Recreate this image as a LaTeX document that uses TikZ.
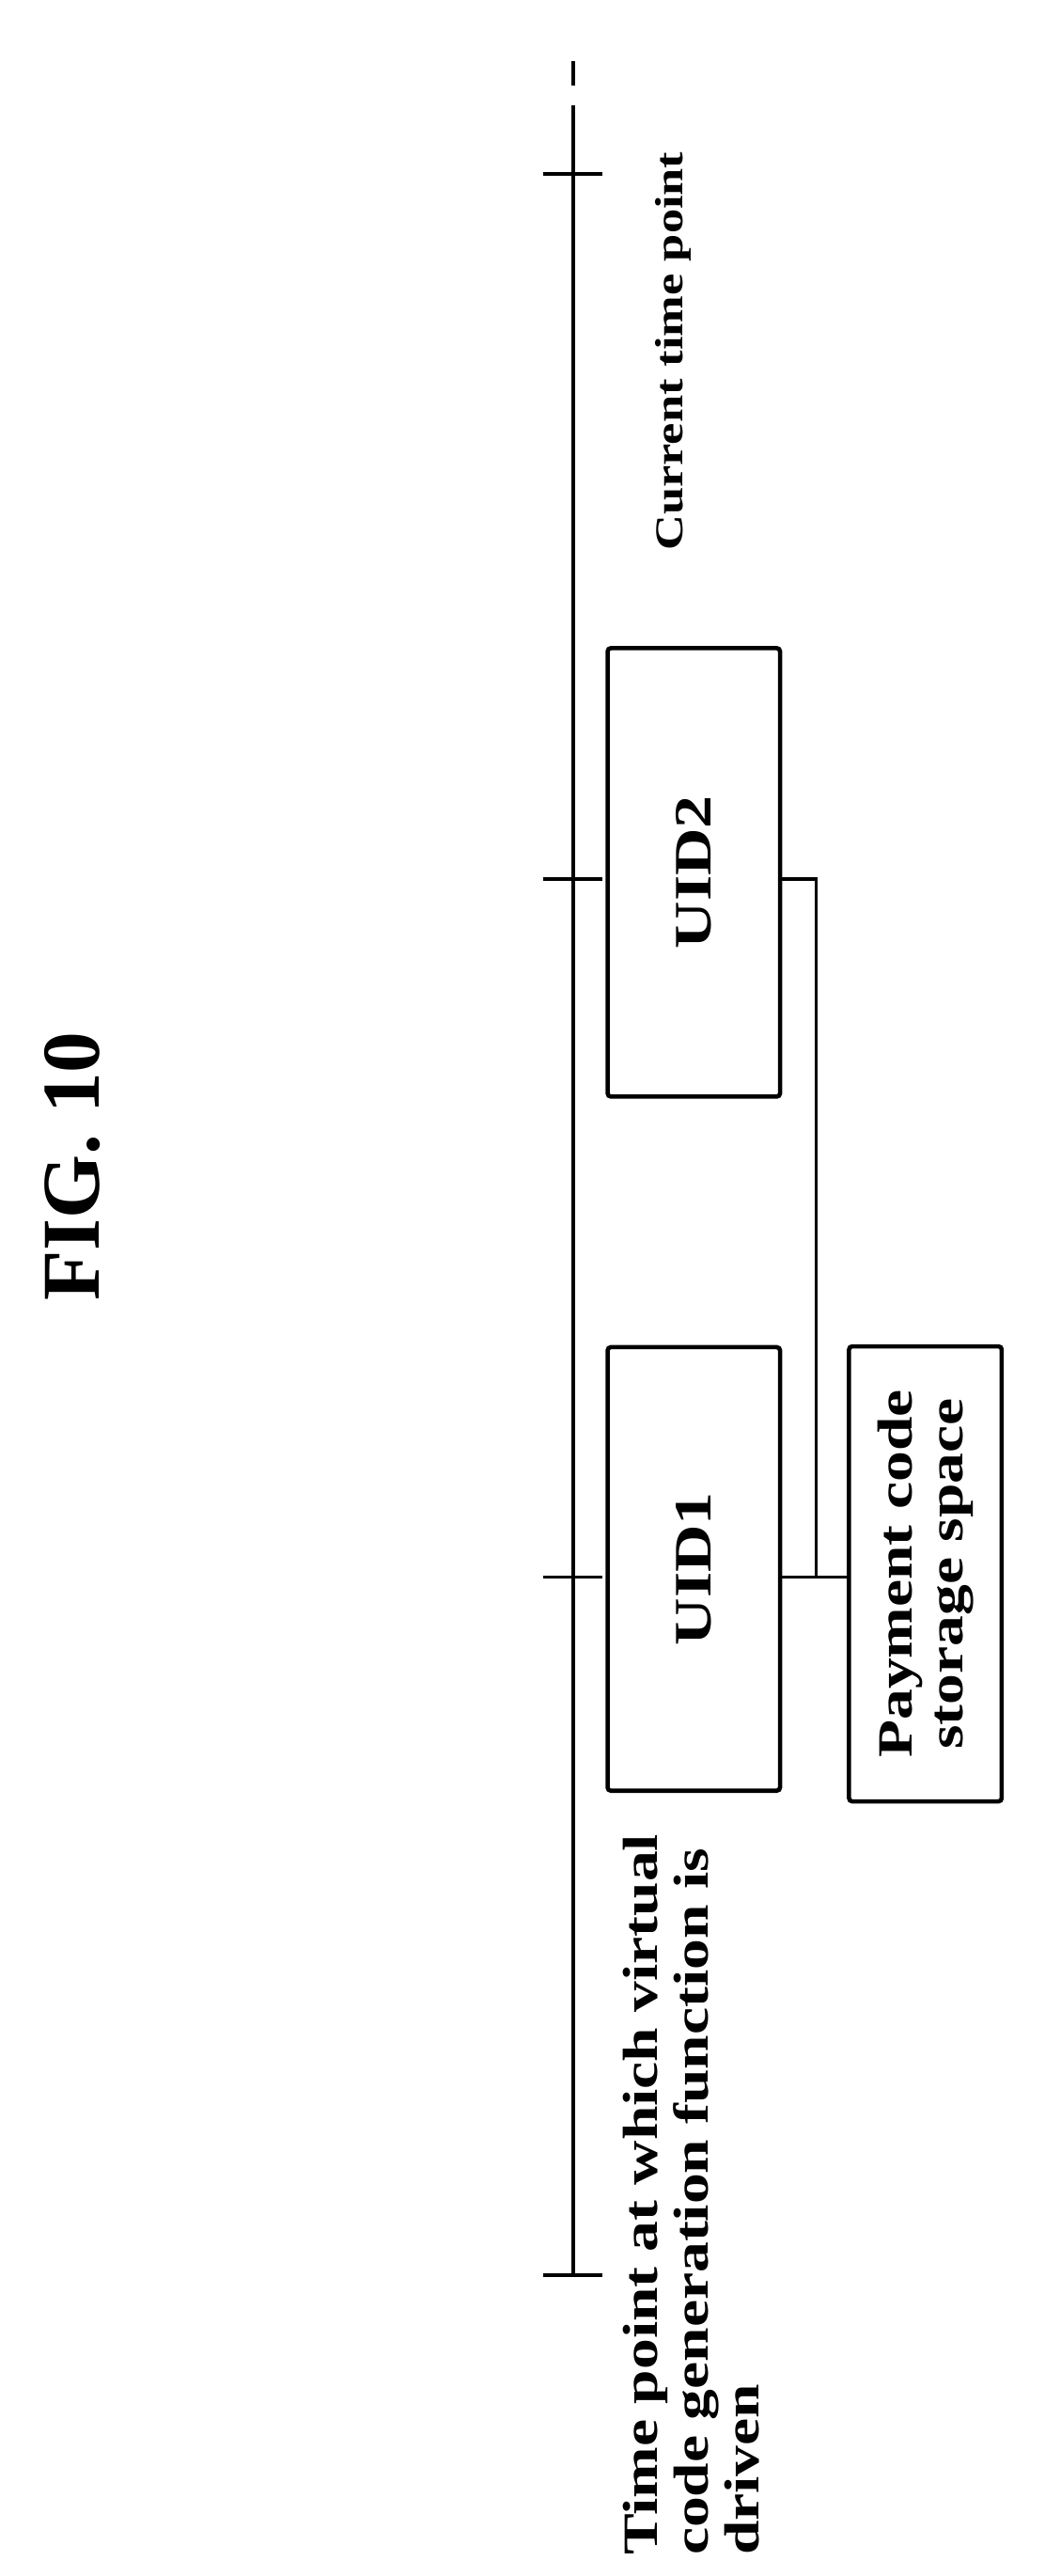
\documentclass[tikz,border=0pt]{standalone}
\usepackage{fontspec}
\setmainfont{Liberation Serif}
\newfontfamily\widefont[FakeStretch=1.25]{Liberation Serif}
\begin{document}
\begin{tikzpicture}[x=1pt,y=-1pt,line width=2.2pt,
  box/.style={draw,line width=2.6pt,rounded corners=2pt,inner sep=0pt},
  lbl/.style={font=\widefont\bfseries\fontsize{30}{31}\selectfont,rotate=90,align=left}]
\useasboundingbox (0,0) rectangle (636,1568);
\node[font=\bfseries\fontsize{50}{54}\selectfont,rotate=90] (fig) at (44,710) {FIG. 10};
% timeline
\coordinate (t0) at (349,1385);
\coordinate (t1) at (349,960);
\coordinate (t2) at (349,535);
\coordinate (t3) at (349,106);
\coordinate (tend) at (349,64);
\coordinate (tdot1) at (349,37);
\coordinate (tdot2) at (349,52);
\draw (t0) -- (tend);
\draw (tdot1) -- (tdot2);
\foreach \t in {t0,t1,t2,t3} \draw ([xshift=-18pt]\t) -- ([xshift=18pt]\t);
% boxes
\node[box,minimum width=105pt,minimum height=270pt] (uid1) at (422.5,955) {};
\node[lbl,font=\widefont\bfseries\fontsize{32}{34}\selectfont] at (uid1) {UID1};
\node[box,minimum width=105pt,minimum height=273pt] (uid2) at (422.5,531) {};
\node[lbl,font=\widefont\bfseries\fontsize{32}{34}\selectfont] at (uid2) {UID2};
\node[box,minimum width=93pt,minimum height=277pt] (pay) at (563.5,958) {};
\node[lbl,align=center] at (pay) {Payment code\\storage space};
\coordinate (j) at (497,960);
\draw (uid2.east |- 0,535) -| (j);
\draw (uid1.east |- 0,960) -- (pay.west |- 0,960);
% labels
\node[lbl,anchor=east,font=\widefont\bfseries\fontsize{24}{26}\selectfont] (cur) at (410,88) {Current time point};
\node[lbl,anchor=north east,align=left] (start) at (375,1112)
  {Time point at which virtual\\code generation function is\\driven};
\end{tikzpicture}
\end{document}
